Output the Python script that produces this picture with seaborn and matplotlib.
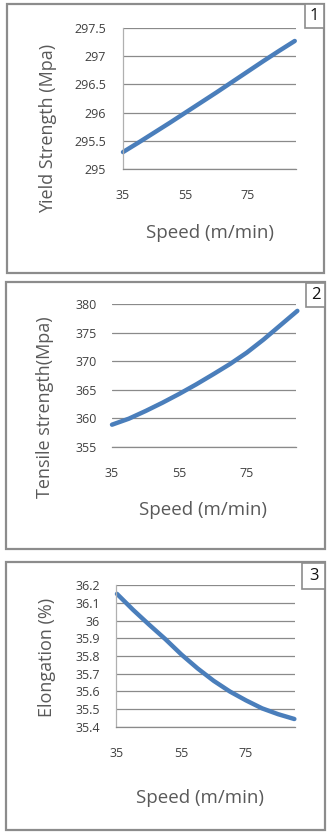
import matplotlib
matplotlib.use("Agg")
import matplotlib.pyplot as plt
import seaborn as sns
import pandas as pd
from matplotlib.patches import Rectangle

# ---- data ----
speed = [35, 40, 45, 50, 55, 60, 65, 70, 75, 80, 85, 90]
yield_strength = [295.30, 295.47, 295.645, 295.82, 296.00, 296.18,
                  296.36, 296.545, 296.73, 296.915, 297.095, 297.27]
tensile_strength = [358.9, 359.95, 361.3, 362.75, 364.3, 365.95,
                    367.7, 369.5, 371.5, 373.8, 376.3, 378.8]
elongation = [36.15, 36.06, 35.976, 35.895, 35.808, 35.73,
              35.66, 35.60, 35.55, 35.505, 35.472, 35.445]

x_ticks = [35, 55, 75]
yield_ticks = [295, 295.5, 296, 296.5, 297, 297.5]
yield_ticklabels = ["295", "295.5", "296", "296.5", "297", "297.5"]
tensile_ticks = [355, 360, 365, 370, 375, 380]
elong_ticks = [35.4, 35.5, 35.6, 35.7, 35.8, 35.9, 36.0, 36.1, 36.2]
elong_ticklabels = ["35.4", "35.5", "35.6", "35.7", "35.8", "35.9", "36", "36.1", "36.2"]

ylabels = ["Yield Strength (Mpa)", "Tensile strength(Mpa)", "Elongation (%)"]
xlabel = "Speed (m/min)"
panel_numbers = ["1", "2", "3"]

sns.set_style("white")
plt.rcParams["font.family"] = ["Open Sans", "DejaVu Sans"]

W, H = 329, 836
fig = plt.figure(figsize=(W / 100, H / 100), dpi=100)
fig.patch.set_facecolor("white")


def fx(x):
    return x / W


def fy(y):
    return 1 - y / H


def add_axes(l, t, r, b):
    return fig.add_axes([fx(l), fy(b), (r - l) / W, (b - t) / H])


line_color = "#4a7ebb"
grid_color = "#8a8a8a"
tick_color = "#404040"
label_color = "#595959"

panels = [
    dict(box=(7, 4, 324, 273), ax=(123, 28, 296, 169), y=yield_strength,
         ylim=(295, 297.5), xlim=(35, 90.4), yt=yield_ticks, ytl=yield_ticklabels,
         left=True, ypad=12.2, ylab=(48, 128), xlab=(210, 233), num=(305, 4, 324, 28)),
    dict(box=(6, 282, 325, 549), ax=(112, 304, 296, 447), y=tensile_strength,
         ylim=(355, 380), xlim=(35, 89.6), yt=tensile_ticks,
         ytl=[str(v) for v in tensile_ticks], left=False, ypad=10.8,
         ylab=(45, 407), xlab=(203, 510), num=(306, 283, 325, 307)),
    dict(box=(6, 562, 325, 830), ax=(116, 585, 295, 727), y=elongation,
         ylim=(35.4, 36.2), xlim=(34.7, 90.2), yt=elong_ticks, ytl=elong_ticklabels,
         left=True, ypad=11.5, ylab=(47, 657), xlab=(200, 798), num=(302, 563, 325, 589)),
]

for i, p in enumerate(panels):
    l, t, r, b = p["box"]
    fig.patches.append(Rectangle((fx(l), fy(b)), (r - l) / W, (b - t) / H,
                                 transform=fig.transFigure, fill=False,
                                 edgecolor="#8c8c8c", linewidth=1.6))
    nl, nt, nr, nb = p["num"]
    fig.patches.append(Rectangle((fx(nl), fy(nb)), (nr - nl) / W, (nb - nt) / H,
                                 transform=fig.transFigure, facecolor="white",
                                 edgecolor="#8c8c8c", linewidth=1.2, zorder=5))
    fig.text(fx((nl + nr) / 2), fy((nt + nb) / 2), panel_numbers[i], ha="center",
             va="center", fontsize=12, color="#111111", zorder=6)

    ax = add_axes(*p["ax"])
    df = pd.DataFrame({"speed": speed, "value": p["y"]})
    sns.lineplot(data=df, x="speed", y="value", ax=ax, color=line_color,
                 linewidth=3.2, solid_capstyle="round")
    for ln in ax.lines:
        ln.set_clip_on(False)
    ax.set_xlim(*p["xlim"])
    ax.set_ylim(*p["ylim"])
    ax.set_xticks(x_ticks)
    ax.set_xticklabels([str(v) for v in x_ticks])
    ax.set_yticks(p["yt"])
    ax.set_yticklabels(p["ytl"])
    ax.yaxis.grid(True, color=grid_color, linewidth=0.9)
    ax.xaxis.grid(False)
    ax.set_axisbelow(True)
    for s in ["top", "right"]:
        ax.spines[s].set_visible(False)
    ax.spines["bottom"].set_color(grid_color)
    ax.spines["bottom"].set_linewidth(0.9)
    ax.spines["left"].set_visible(p["left"])
    ax.spines["left"].set_color("#b0b0b0")
    ax.spines["left"].set_linewidth(0.9)
    ax.tick_params(axis="x", length=0, pad=14.5, labelsize=9, labelcolor=tick_color)
    ax.tick_params(axis="y", length=0, pad=p["ypad"], labelsize=9,
                   labelcolor=tick_color)
    ax.set_xlabel("")
    ax.set_ylabel("")
    fig.text(fx(p["ylab"][0]), fy(p["ylab"][1]), ylabels[i], rotation=90,
             ha="center", va="center", fontsize=13, color=label_color)
    fig.text(fx(p["xlab"][0]), fy(p["xlab"][1]), xlabel, ha="center",
             va="center", fontsize=13.5, color=label_color)

fig.savefig("out.png", dpi=100)
